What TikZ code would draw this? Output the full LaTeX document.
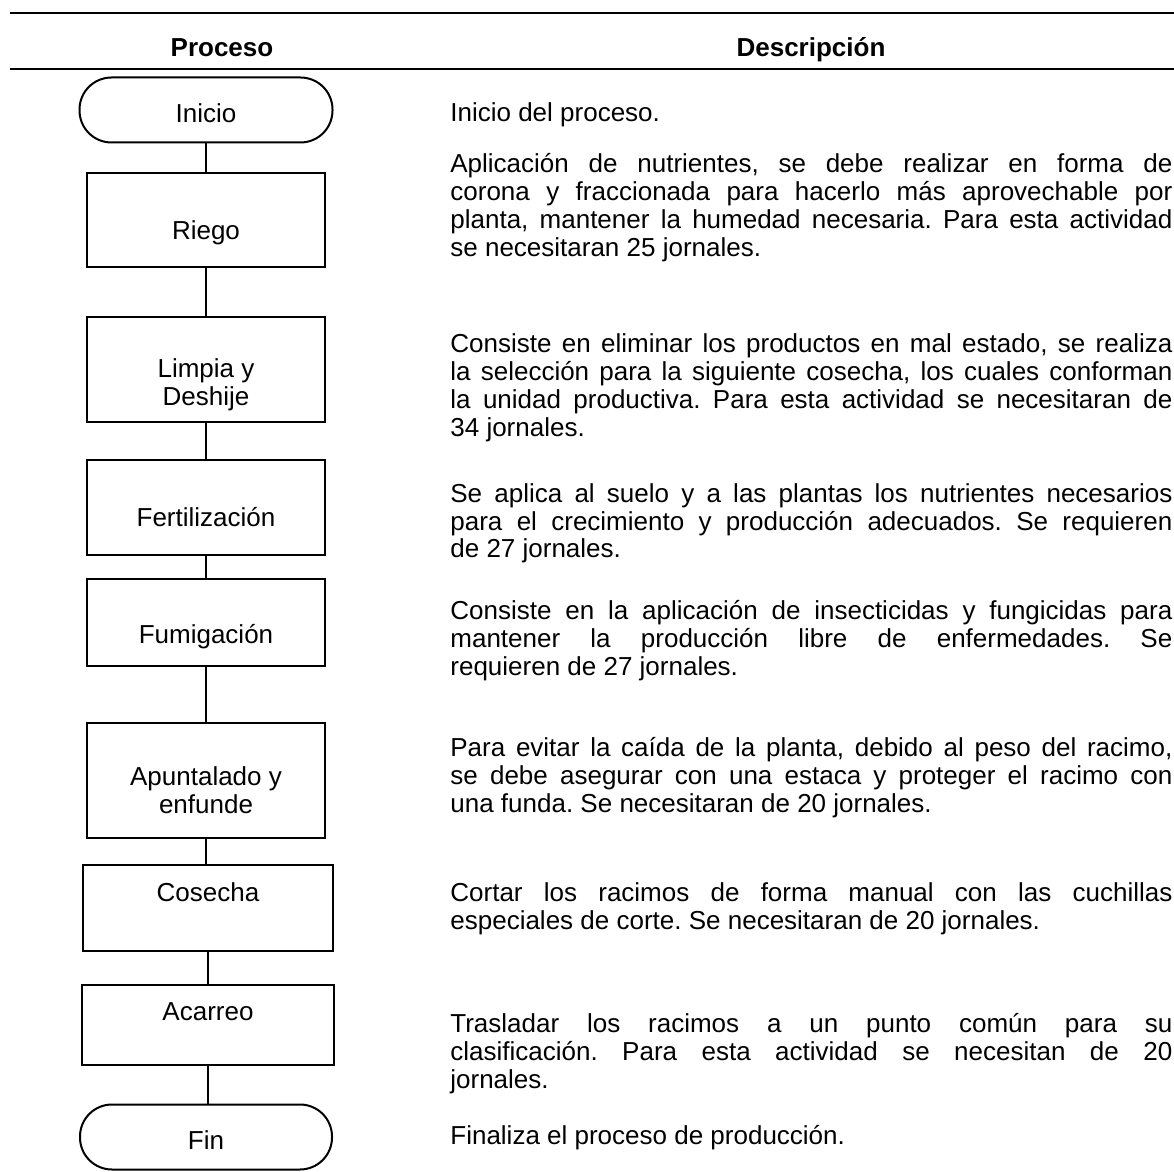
\documentclass[tikz,border=0pt]{standalone}
\usepackage{fontspec}
\setmainfont{Liberation Sans}

\begin{document}
\begin{tikzpicture}[x=0.5pt, y=-0.5pt,
  every node/.style={font=\fontsize{13pt}{14pt}\selectfont, inner sep=0pt},
  titulo/.style={anchor=base, font=\fontsize{13pt}{14pt}\selectfont\bfseries},
  caja/.style={draw, line width=1pt, minimum width=119pt},
  term/.style={draw, line width=1pt, rounded corners=16pt, minimum width=126.5pt, minimum height=32.5pt},
  conn/.style={line width=1pt},
  regla/.style={line width=1pt},
  desc/.style={anchor=base west, text width=361pt, align=justify,
    execute at begin node={\frenchspacing\tolerance=10000\hbadness=10000\hyphenpenalty=10000}}]

\useasboundingbox (0,0) rectangle (1174,1172);

% encabezado
\draw[regla] (10,13) -- (1174,13);
\draw[regla] (10,69) -- (1174,69);
\node[titulo] (proceso) at (222,57) {Proceso};
\node[titulo] (descripcion) at (811,57) {Descripción};

% diagrama
\node[term] (inicio) at (206,110) {};
\node (iniciot) at (206,113) {Inicio};

\node[caja, minimum height=47pt] (riego) at (206,220) {};
\node (riegot) at (206,233) {Riego};

\node[caja, minimum height=52.5pt] (limpia) at (206,369) {};
\node[align=center] (limpiat) at (206,385) {Limpia y\\Deshije};

\node[caja, minimum height=47.5pt] (fert) at (206,507) {};
\node (fertt) at (206,517) {Fertilización};

\node[caja, minimum height=43.5pt] (fumi) at (206,622) {};
\node (fumit) at (206,637) {Fumigación};

\node[caja, minimum height=57.5pt] (apun) at (206,780) {};
\node[align=center] (apunt) at (206,790) {Apuntalado y\\enfunde};

\node[caja, minimum width=125pt, minimum height=43pt] (cose) at (208,908) {};
\node (coset) at (208,892) {Cosecha};

\node[caja, minimum width=126pt, minimum height=40pt] (acar) at (208,1025) {};
\node (acart) at (208,1012) {Acarreo};

\node[term, minimum width=126pt] (fin) at (206,1137) {};
\node (fint) at (206,1140) {Fin};

\draw[conn] (inicio) -- (riego);
\draw[conn] (riego) -- (limpia);
\draw[conn] (limpia) -- (fert);
\draw[conn] (fert) -- (fumi);
\draw[conn] (fumi) -- (apun);
\draw[conn] (apun.south) -- (apun.south |- cose.north);
\draw[conn] (cose) -- (acar);
\draw[conn] (acar.south) -- (acar.south |- fin.north);

% descripciones
\node[desc] (d1) at (450,122) {Inicio del proceso.};
\node[desc] (d2) at (450,173) {Aplicación de nutrientes, se debe realizar en forma de\linebreak corona y fraccionada para hacerlo más aprovechable por\linebreak planta, mantener la humedad necesaria. Para esta actividad\linebreak se necesitaran 25 jornales.};
\node[desc] (d3) at (450,352) {Consiste en eliminar los productos en mal estado, se realiza\linebreak la selección para la siguiente cosecha, los cuales conforman\linebreak la unidad productiva. Para esta actividad se necesitaran de\linebreak 34 jornales.};
\node[desc] (d4) at (450,502) {Se aplica al suelo y a las plantas los nutrientes necesarios\linebreak para el crecimiento y producción adecuados. Se requieren\linebreak de 27 jornales.};
\node[desc] (d5) at (450,619) {Consiste en la aplicación de insecticidas y fungicidas para\linebreak mantener la producción libre de enfermedades. Se\linebreak requieren de 27 jornales.};
\node[desc] (d6) at (450,756) {Para evitar la caída de la planta, debido al peso del racimo,\linebreak se debe asegurar con una estaca y proteger el racimo con\linebreak una funda. Se necesitaran de 20 jornales.};
\node[desc] (d7) at (450,901) {Cortar los racimos de forma manual con las cuchillas\linebreak especiales de corte. Se necesitaran de 20 jornales.};
\node[desc] (d8) at (450,1032) {Trasladar los racimos a un punto común para su\linebreak clasificación. Para esta actividad se necesitan de 20\linebreak jornales.};
\node[desc] (d9) at (450,1144) {Finaliza el proceso de producción.};

\end{tikzpicture}
\end{document}
